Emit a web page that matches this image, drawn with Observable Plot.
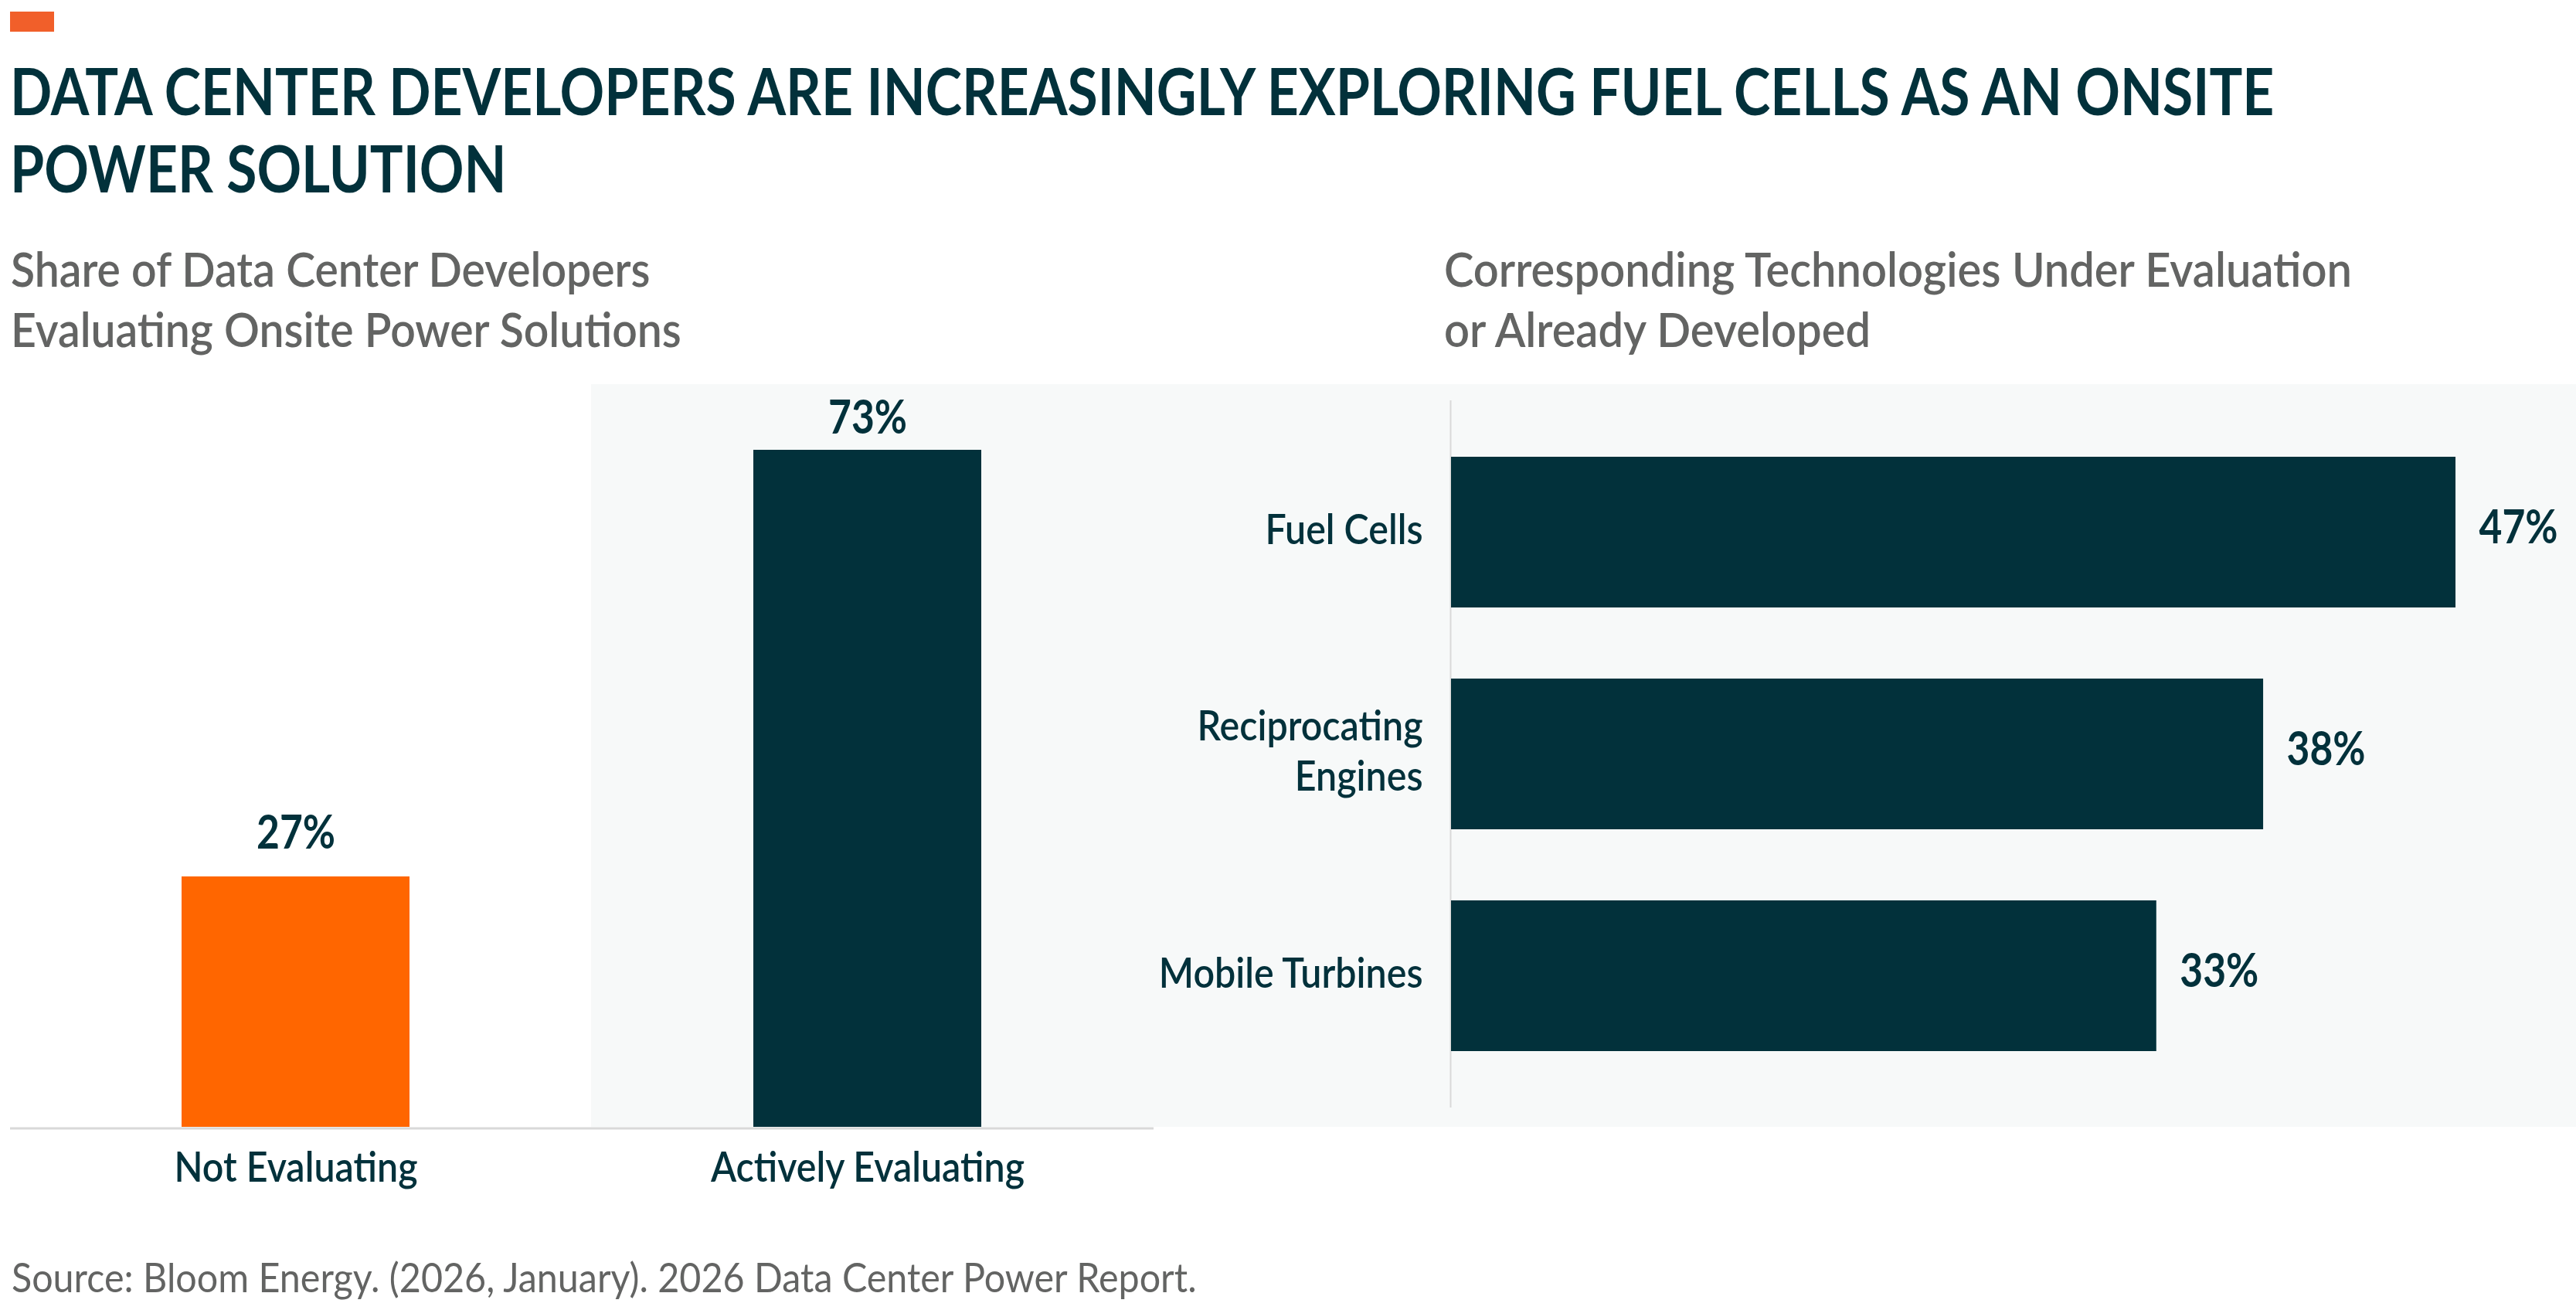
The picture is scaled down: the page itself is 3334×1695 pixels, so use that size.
<!DOCTYPE html>
<html>
<head>
<meta charset="utf-8">
<script src="https://cdn.jsdelivr.net/npm/d3@7"></script>
<script src="https://cdn.jsdelivr.net/npm/@observablehq/plot@0.6"></script>
<style>
html, body { margin: 0; padding: 0; background: #ffffff; }
#root { position: relative; width: 3334px; height: 1695px; overflow: hidden; background: #ffffff; }
.plot { position: absolute; }
</style>
</head>
<body>
<div id="root"></div>
<script>
// ---------- data ----------
const titleLines = [
  "DATA CENTER DEVELOPERS ARE INCREASINGLY EXPLORING FUEL CELLS AS AN ONSITE",
  "POWER SOLUTION"
];
const leftSubtitle = ["Share of Data Center Developers", "Evaluating Onsite Power Solutions"];
const rightSubtitle = ["Corresponding Technologies Under Evaluation", "or Already Developed"];
const sourceText = "Source: Bloom Energy. (2026, January). 2026 Data Center Power Report.";

const statusLabels = ["Not Evaluating", "Actively Evaluating"];
const statusValues = [27, 73];

const techLabels = ["Fuel Cells", "Reciprocating\nEngines", "Mobile Turbines"];
const techValues = [47, 38, 33];

// ---------- style ----------
const FONT = "Lato, 'Open Sans', sans-serif";
const TEAL = "#02313b";
const ORANGE = "#ff6600";
const ACCENT = "#f15f2a";
const GRAY = "#636463";
const PANEL = "#f7f9f9";
const RULE = "#d9d9d9";

const root = document.getElementById("root");

const canvas = document.createElement("canvas");
const ctx = canvas.getContext("2d");
function measure(text, weight, size) {
  ctx.font = `${weight} ${size}px Lato`;
  return ctx.measureText(text).width;
}

function placeLine(text, x, baseline, size, weight, color, k) {
  const div = document.createElement("div");
  div.style.cssText = `position:absolute;left:${x}px;top:0;white-space:nowrap;font-family:${FONT};font-size:${size}px;font-weight:${weight};color:${color};line-height:1;transform-origin:0 0;transform:scaleX(${k});`;
  div.textContent = text;
  const marker = document.createElement("span");
  marker.style.cssText = "display:inline-block;width:0;height:0;vertical-align:baseline;";
  div.appendChild(marker);
  root.appendChild(div);
  const b = marker.offsetTop;
  div.style.top = (baseline - b) + "px";
  return div;
}

function condense(svg, kAxis, kValue) {
  svg.querySelectorAll("text").forEach(t => {
    const g = t.closest("g[aria-label]");
    const isAxis = g && /axis/.test(g.getAttribute("aria-label"));
    const k = isAxis ? kAxis : kValue;
    const spans = t.querySelectorAll("tspan");
    const targets = spans.length ? Array.from(spans) : [t];
    targets.forEach(el => {
      const len = el.getComputedTextLength();
      el.setAttribute("textLength", (len * k).toFixed(2));
      el.setAttribute("lengthAdjust", "spacingAndGlyphs");
    });
  });
}

function build() {
  // accent rectangle
  const acc = document.createElement("div");
  acc.style.cssText = `position:absolute;left:13px;top:15px;width:57px;height:26px;background:${ACCENT};`;
  root.appendChild(acc);

  // grey panel behind the highlighted section
  const panel = document.createElement("div");
  panel.style.cssText = `position:absolute;left:765px;top:497px;width:2569px;height:961px;background:${PANEL};`;
  root.appendChild(panel);

  // title
  const kTitle = 2945 / measure(titleLines[0], 700, 84);
  placeLine(titleLines[0], 13, 149, 84, 700, TEAL, kTitle);
  placeLine(titleLines[1], 13, 249, 84, 700, TEAL, kTitle);

  // subtitles
  const kSubL = 869 / measure(leftSubtitle[1], 600, 61);
  placeLine(leftSubtitle[0], 14, 371, 61, 600, GRAY, kSubL);
  placeLine(leftSubtitle[1], 14, 449, 61, 600, GRAY, kSubL);
  const kSubR = 1178 / measure(rightSubtitle[0], 600, 61);
  placeLine(rightSubtitle[0], 1869, 371, 61, 600, GRAY, kSubR);
  placeLine(rightSubtitle[1], 1869, 449, 61, 600, GRAY, kSubR);

  // source
  const kSrc = 1537 / measure(sourceText, 400, 52);
  placeLine(sourceText, 15, 1672, 52, 400, GRAY, kSrc);

  const kAxis = 315 / measure("Not Evaluating", 600, 54);
  const kValue = 102 / measure("27%", 700, 61);

  // ---------- left chart ----------
  const leftData = statusLabels.map((label, i) => ({label, value: statusValues[i]}));
  const labelStyle = {
    x: "label", y: "value", text: d => `${d.value}%`,
    lineAnchor: "bottom", fontSize: 61, fontWeight: 700, fill: TEAL
  };
  const left = Plot.plot({
    width: 1500,
    height: 1100,
    marginTop: 38,
    marginBottom: 102,
    marginLeft: 13,
    marginRight: 7,
    style: {background: "transparent", fontFamily: FONT, overflow: "visible"},
    x: {domain: statusLabels, paddingInner: 0.601, paddingOuter: 0.3, label: null},
    y: {domain: [0, 80], axis: null},
    color: {domain: statusLabels, range: [ORANGE, TEAL]},
    marks: [
      Plot.barY(leftData, {x: "label", y: "value", fill: "label"}),
      Plot.ruleY([0], {stroke: RULE, strokeWidth: 3, dy: 1.5}),
      // labels near the top of the frame sit a little closer to their bar
      Plot.text(leftData.filter(d => d.value < 70), {...labelStyle, dy: -37}),
      Plot.text(leftData.filter(d => d.value >= 70), {...labelStyle, dy: -22}),
      Plot.axisX({tickSize: 0, tickPadding: 32, fontSize: 54, fontWeight: 600, color: TEAL, label: null})
    ]
  });
  left.classList.add("plot");
  left.style.left = "0px";
  left.style.top = "460px";
  root.appendChild(left);

  // ---------- right chart ----------
  const techData = techLabels.map((label, i) => ({label, value: techValues[i]}));
  const right = Plot.plot({
    width: 1834,
    height: 1000,
    marginTop: 58,
    marginBottom: 27,
    marginLeft: 378,
    marginRight: 73,
    style: {background: "transparent", fontFamily: FONT, overflow: "visible"},
    x: {domain: [0, 50], axis: null},
    y: {domain: techLabels, paddingInner: 0.32, paddingOuter: 0.25, label: null},
    marks: [
      Plot.ruleX([0], {stroke: RULE, strokeWidth: 2, dx: -1}),
      Plot.barX(techData, {y: "label", x: "value", fill: TEAL}),
      Plot.text(techData, {
        y: "label", x: "value", text: d => `${d.value}%`,
        textAnchor: "start", dx: 30, dy: -6, fontSize: 61, fontWeight: 700, fill: TEAL
      }),
      Plot.axisY({tickSize: 0, tickPadding: 37, fontSize: 54, fontWeight: 600, color: TEAL, label: null, lineHeight: 1.2, dy: -6})
    ]
  });
  right.classList.add("plot");
  right.style.left = "1500px";
  right.style.top = "460px";
  root.appendChild(right);

  condense(left, kAxis, kValue);
  condense(right, kAxis, kValue);
}

if (document.fonts && document.fonts.ready) {
  document.fonts.ready.then(build);
} else {
  build();
}
</script>
</body>
</html>
